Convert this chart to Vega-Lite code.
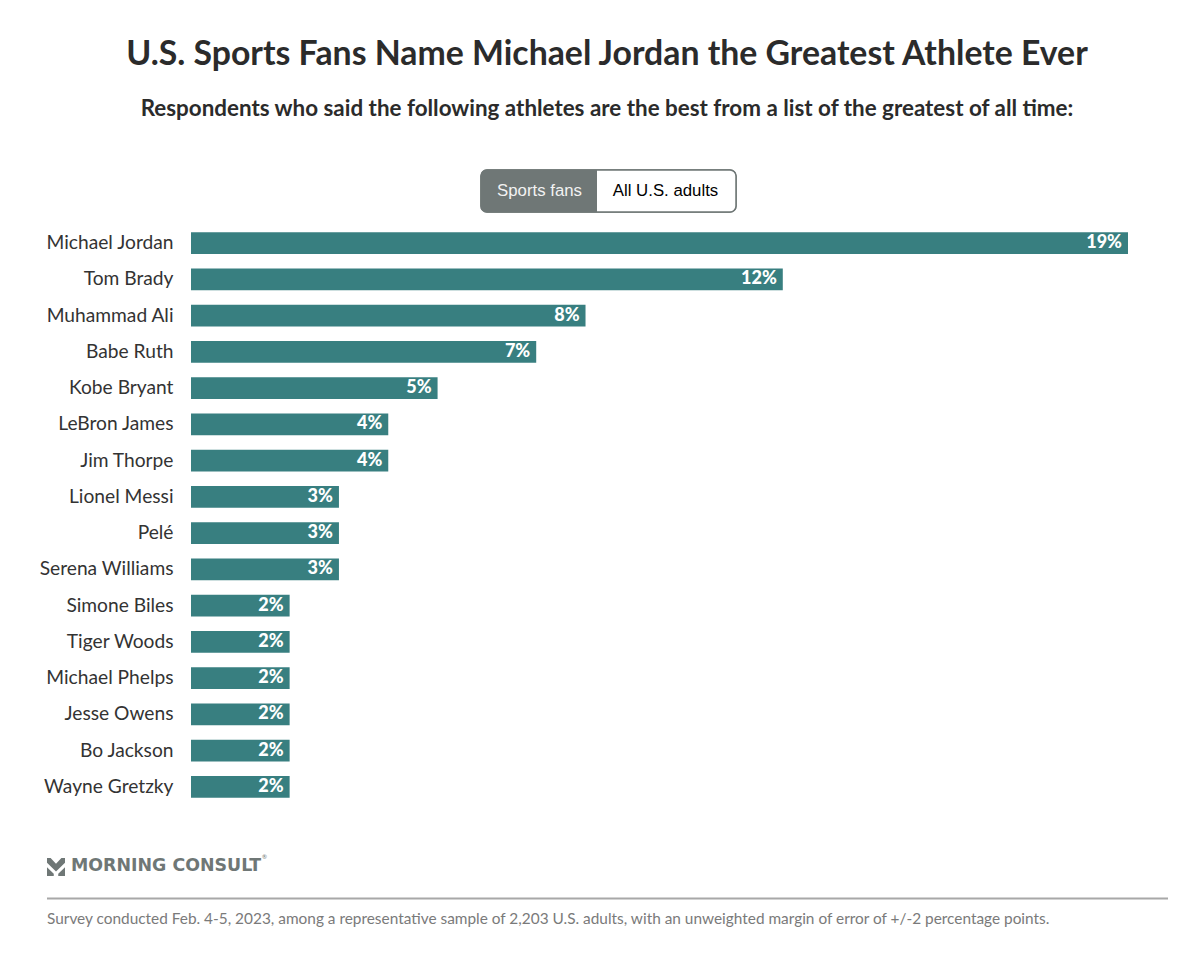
{
  "$schema": "https://vega.github.io/schema/vega-lite/v6.json",
  "padding": {"left": 38, "top": 38, "right": 31, "bottom": 0},
  "background": "white",
  "title": {
    "text": "U.S. Sports Fans Name Michael Jordan the Greatest Athlete Ever",
    "subtitle": "Respondents who said the following athletes are the best from a list of the greatest of all time:",
    "font": "Lato",
    "fontSize": 33.8,
    "fontWeight": 700,
    "color": "#2b2b2b",
    "subtitleFont": "Lato",
    "subtitleFontSize": 22.4,
    "subtitleFontWeight": 700,
    "subtitleColor": "#2b2b2b",
    "subtitlePadding": 26,
    "anchor": "middle",
    "frame": "group",
    "offset": 49
  },
  "bounds": "flush",
  "spacing": 13,
  "config": {"view": {"stroke": null}},
  "vconcat": [
    {
      "width": 1122,
      "height": 42,
      "data": {"values": [{"option": "Sports fans"}, {"option": "All U.S. adults"}]},
      "layer": [
        {
          "mark": {"type": "rect", "fill": "white", "stroke": "#6f7776", "strokeWidth": 1.5, "cornerRadius": 6},
          "encoding": {
            "x": {"datum": 435, "type": "quantitative", "scale": {"domain": [0, 1122], "nice": false}, "axis": null},
            "x2": {"datum": 690}
          }
        },
        {
          "transform": [{"filter": "datum.option === 'Sports fans'"}],
          "mark": {"type": "rect", "fill": "#6f7776", "cornerRadiusTopLeft": 6, "cornerRadiusBottomLeft": 6},
          "encoding": {
            "x": {"datum": 435, "type": "quantitative", "scale": {"domain": [0, 1122], "nice": false}, "axis": null},
            "x2": {"datum": 551}
          }
        },
        {
          "transform": [{"filter": "datum.option === 'Sports fans'"}],
          "mark": {"type": "text", "font": "Liberation Sans", "fontSize": 16.8, "color": "#f2f2f2"},
          "encoding": {
            "x": {"datum": 493.5, "type": "quantitative", "scale": {"domain": [0, 1122], "nice": false}, "axis": null},
            "text": {"field": "option"}
          }
        },
        {
          "transform": [{"filter": "datum.option === 'All U.S. adults'"}],
          "mark": {"type": "text", "font": "Liberation Sans", "fontSize": 16.8, "color": "#000000"},
          "encoding": {
            "x": {"datum": 619.5, "type": "quantitative", "scale": {"domain": [0, 1122], "nice": false}, "axis": null},
            "text": {"field": "option"}
          }
        }
      ]
    },
    {
      "width": 1122,
      "height": 580,
      "data": {
        "values": [
          {"athlete": "Michael Jordan", "share": 0.19},
          {"athlete": "Tom Brady", "share": 0.12},
          {"athlete": "Muhammad Ali", "share": 0.08},
          {"athlete": "Babe Ruth", "share": 0.07},
          {"athlete": "Kobe Bryant", "share": 0.05},
          {"athlete": "LeBron James", "share": 0.04},
          {"athlete": "Jim Thorpe", "share": 0.04},
          {"athlete": "Lionel Messi", "share": 0.03},
          {"athlete": "Pelé", "share": 0.03},
          {"athlete": "Serena Williams", "share": 0.03},
          {"athlete": "Simone Biles", "share": 0.02},
          {"athlete": "Tiger Woods", "share": 0.02},
          {"athlete": "Michael Phelps", "share": 0.02},
          {"athlete": "Jesse Owens", "share": 0.02},
          {"athlete": "Bo Jackson", "share": 0.02},
          {"athlete": "Wayne Gretzky", "share": 0.02}
        ]
      },
      "encoding": {
        "y": {
          "field": "athlete",
          "type": "nominal",
          "sort": null,
          "title": null,
          "scale": {"paddingInner": 0.4, "paddingOuter": 0.2},
          "axis": {"domain": false, "ticks": false, "offset": -127, "labelPadding": 0, "labelFont": "Lato", "labelFontSize": 19.2, "labelColor": "#333333", "labelLimit": 200}
        },
        "x": {
          "field": "share",
          "type": "quantitative",
          "title": null,
          "axis": null,
          "scale": {"domain": [0, 0.19], "range": [145, 1082]}
        }
      },
      "layer": [
        {"mark": {"type": "bar", "color": "#387f80"}},
        {
          "mark": {"type": "text", "align": "right", "dx": -6, "font": "Lato", "fontSize": 18, "fontWeight": 900, "color": "white"},
          "encoding": {"text": {"field": "share", "format": ".0%"}}
        }
      ]
    },
    {
      "width": 1122,
      "height": 110,
      "data": {
        "values": [
          {"part": "logo", "label": "MORNING CONSULT"},
          {"part": "rule", "label": ""},
          {"part": "note", "label": "Survey conducted Feb. 4-5, 2023, among a representative sample of 2,203 U.S. adults, with an unweighted margin of error of +/-2 percentage points."}
        ]
      },
      "encoding": {
        "y": {"field": "part", "type": "nominal", "sort": null, "axis": null, "scale": {"type": "point", "domain": ["logo", "gap", "rule", "note"], "range": [41, 104]}}
      },
      "layer": [
        {
          "transform": [{"filter": "datum.part === 'logo'"}],
          "mark": {
            "type": "point",
            "filled": true,
            "size": 324,
            "opacity": 1,
            "color": "#6f7776",
            "shape": "M-1,-1 L-0.6,-1 L0,-0.35 L0.6,-1 L1,-1 L1,-0.45 L0,0.5 L-1,-0.45 Z M-1,0.05 L-0.25,0.75 L-0.25,1 L-1,1 Z M1,0.05 L0.25,0.75 L0.25,1 L1,1 Z"
          },
          "encoding": {"x": {"datum": 10, "type": "quantitative", "scale": {"domain": [0, 1122], "nice": false}, "axis": null}}
        },
        {
          "transform": [{"filter": "datum.part === 'logo'"}],
          "mark": {"type": "text", "align": "left", "dy": -1, "font": "DejaVu Sans", "fontWeight": 700, "fontSize": 17.4, "color": "#6f7776"},
          "encoding": {"x": {"datum": 25, "type": "quantitative", "scale": {"domain": [0, 1122], "nice": false}, "axis": null}, "text": {"field": "label"}}
        },
        {
          "transform": [{"filter": "datum.part === 'logo'"}],
          "mark": {"type": "text", "align": "left", "dy": -10, "font": "Lato", "fontSize": 6, "color": "#6f7776"},
          "encoding": {"x": {"datum": 216, "type": "quantitative", "scale": {"domain": [0, 1122], "nice": false}, "axis": null}, "text": {"value": "®"}}
        },
        {
          "transform": [{"filter": "datum.part === 'rule'"}],
          "mark": {"type": "rule", "color": "#a8a8a8", "strokeWidth": 2},
          "encoding": {"x": {"datum": 1, "type": "quantitative", "scale": {"domain": [0, 1122], "nice": false}, "axis": null}, "x2": {"datum": 1122}}
        },
        {
          "transform": [{"filter": "datum.part === 'note'"}],
          "mark": {"type": "text", "align": "left", "dy": 5, "font": "Lato", "fontSize": 15.4, "color": "#7a7a7a"},
          "encoding": {"x": {"datum": 1, "type": "quantitative", "scale": {"domain": [0, 1122], "nice": false}, "axis": null}, "text": {"field": "label"}}
        }
      ]
    }
  ]
}
